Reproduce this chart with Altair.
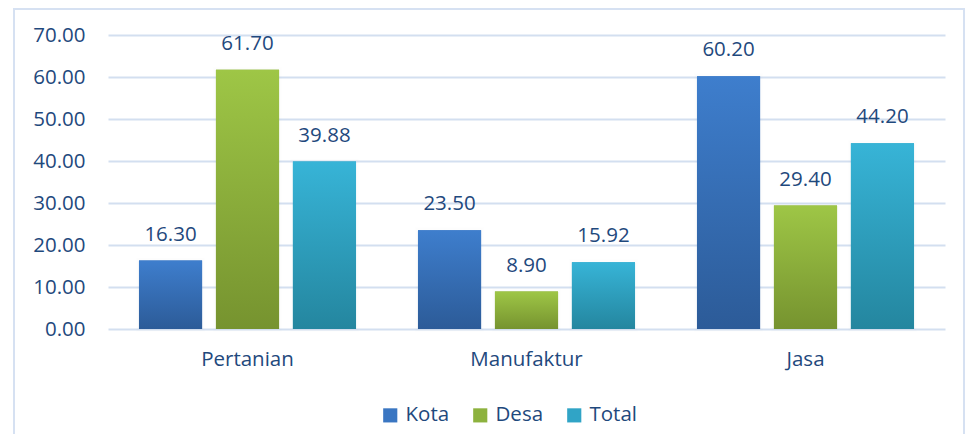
import altair as alt
import pandas as pd

categories = ["Pertanian", "Manufaktur", "Jasa"]
series = ["Kota", "Desa", "Total"]
kota = [16.30, 23.50, 60.20]
desa = [61.70, 8.90, 29.40]
total = [39.88, 15.92, 44.20]

rows = []
for i, c in enumerate(categories):
    for s, vals in zip(series, [kota, desa, total]):
        rows.append({"cat": c, "series": s, "value": vals[i]})
df = pd.DataFrame(rows)

grads = {
    "Kota": ("#3E7ECD", "#2C5B98"),
    "Desa": ("#9EC646", "#76932F"),
    "Total": ("#37B4D7", "#24869F"),
}
solid = ["#3A76C2", "#8DB23E", "#30A4C6"]
TEXT = "#1F497D"
FONT = "Open Sans"

x_enc = alt.X("cat:N", sort=categories, title=None,
              scale=alt.Scale(paddingInner=0.222, paddingOuter=0.111),
              axis=alt.Axis(labelAngle=0, labelFontSize=20.5, labelColor=TEXT, labelFont=FONT,
                            ticks=False, domain=False, grid=False, labelPadding=20))
xo_enc = alt.XOffset("series:N", sort=series,
                     scale=alt.Scale(domain=series, paddingInner=0.18, paddingOuter=0))
y_enc = alt.Y("value:Q", title=None,
              scale=alt.Scale(domain=[0, 70], nice=False),
              axis=alt.Axis(values=[0, 10, 20, 30, 40, 50, 60, 70], format=".2f",
                            labelFontSize=20.5, labelColor=TEXT, labelFont=FONT,
                            ticks=False, domain=False, labelPadding=23,
                            gridColor="#D3DFF0", gridWidth=2))

base = alt.Chart(df).encode(x=x_enc, xOffset=xo_enc, y=y_enc)

shadow = base.mark_bar(color="#000000", opacity=0.08, stroke="#000000",
                       strokeWidth=5, strokeOpacity=0.06)

legend_layer = base.mark_bar().encode(
    color=alt.Color("series:N", sort=series,
                    scale=alt.Scale(domain=series, range=solid),
                    legend=alt.Legend(title=None, orient="none", direction="horizontal",
                                      legendX=272, legendY=370, symbolType="square",
                                      symbolSize=200, labelFontSize=20.5, labelColor=TEXT,
                                      labelFont=FONT, columnPadding=20, labelOffset=5,
                                      symbolStrokeWidth=0))
)

grad_layers = []
for s in series:
    top, bottom = grads[s]
    g = alt.Gradient(gradient="linear", x1=0, x2=0, y1=0, y2=1,
                     stops=[alt.GradientStop(offset=0, color=top),
                            alt.GradientStop(offset=1, color=bottom)])
    grad_layers.append(base.mark_bar(color=g).transform_filter(alt.datum.series == s))

labels = base.mark_text(baseline="bottom", dy=-16, fontSize=20.5, color=TEXT, font=FONT).encode(
    text=alt.Text("value:Q", format=".2f"))

border = alt.Chart(pd.DataFrame({"a": [0]})).mark_rect(
    fillOpacity=0, stroke="#D6E1F2", strokeWidth=2).encode(
    x=alt.value(-94), x2=alt.value(856), y=alt.value(-26), y2=alt.value(700))

chart = alt.layer(border, shadow, legend_layer, *grad_layers, labels).properties(
    width=837, height=294,
    background="white",
    autosize=alt.AutoSizeParams(type="none"),
    padding={"left": 100, "top": 27, "right": 20, "bottom": 105},
).configure_view(stroke=None, strokeWidth=0)

chart.save("out.html", embed_options={"renderer": "svg", "actions": False})
